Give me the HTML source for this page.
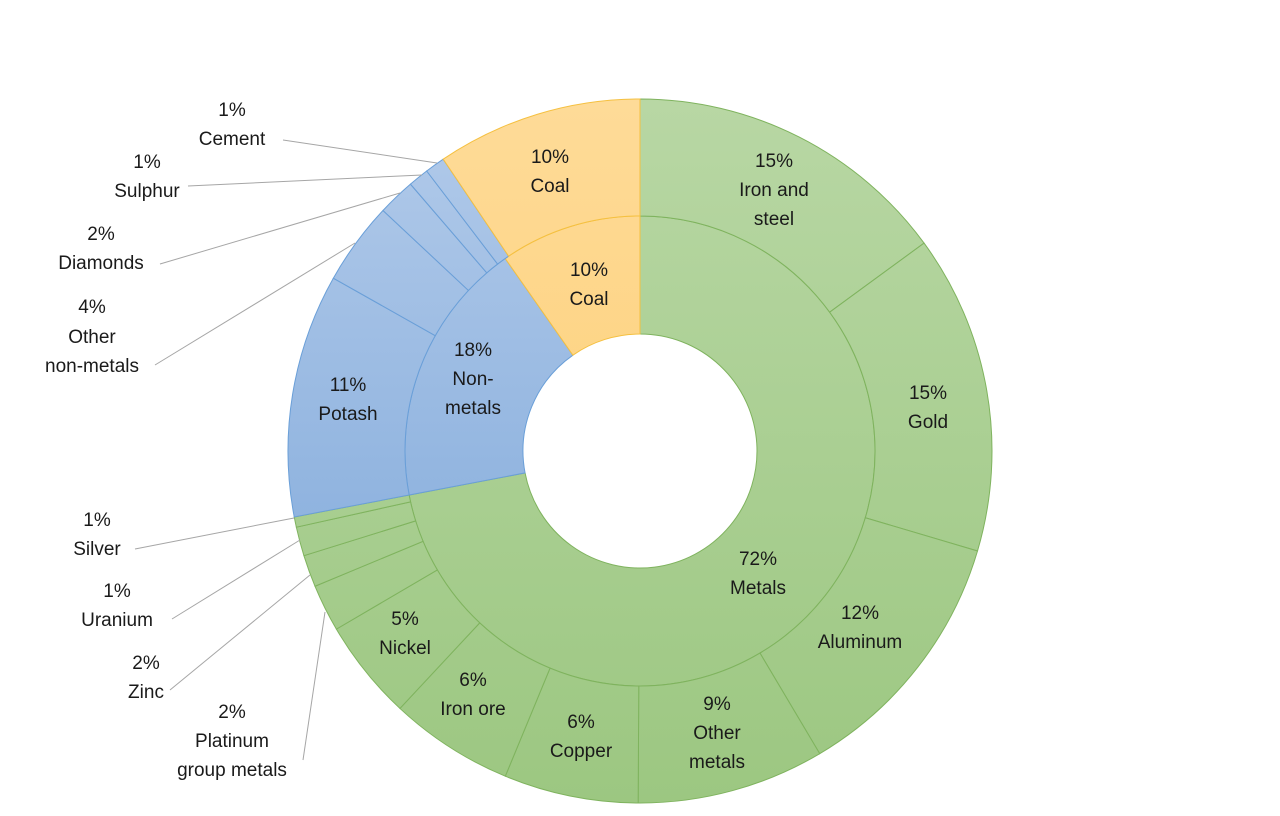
<!DOCTYPE html>
<html><head><meta charset="utf-8"><style>
html,body{margin:0;padding:0;background:#fff}
svg text{font-family:"Liberation Sans",sans-serif;font-size:19px;fill:#1a1a1a;text-anchor:middle}
</style></head><body>
<svg id="s" width="1280" height="811" xmlns="http://www.w3.org/2000/svg">
<defs>
<linearGradient id="g" gradientUnits="userSpaceOnUse" x1="0" y1="99" x2="0" y2="803"><stop offset="0" stop-color="#b8d7a4"/><stop offset="1" stop-color="#9cc781"/></linearGradient>
<linearGradient id="b" gradientUnits="userSpaceOnUse" x1="0" y1="99" x2="0" y2="803"><stop offset="0" stop-color="#b3cbea"/><stop offset="0.6" stop-color="#8fb3df"/><stop offset="1" stop-color="#7fa7da"/></linearGradient>
<linearGradient id="o" gradientUnits="userSpaceOnUse" x1="0" y1="99" x2="0" y2="803"><stop offset="0" stop-color="#fedb98"/><stop offset="1" stop-color="#fccb6a"/></linearGradient>
</defs>
<g id="arcs"></g>
<g stroke="#a6a6a6" stroke-width="1">
<line x1="283" y1="140" x2="437" y2="163"/>
<line x1="188" y1="186" x2="422" y2="175"/>
<line x1="160" y1="264" x2="400" y2="193"/>
<line x1="155" y1="365" x2="355" y2="243"/>
<line x1="135" y1="549" x2="294" y2="518"/>
<line x1="172" y1="619" x2="300" y2="540"/>
<line x1="170" y1="690" x2="310" y2="575"/>
<line x1="303" y1="760" x2="325" y2="612"/>
</g>
<text x="232" y="116">1%</text><text x="232" y="145">Cement</text>
<text x="147" y="168">1%</text><text x="147" y="197">Sulphur</text>
<text x="101" y="240">2%</text><text x="101" y="269">Diamonds</text>
<text x="92" y="313">4%</text><text x="92" y="343">Other</text><text x="92" y="372">non-metals</text>
<text x="97" y="526">1%</text><text x="97" y="555">Silver</text>
<text x="117" y="597">1%</text><text x="117" y="626">Uranium</text>
<text x="146" y="669">2%</text><text x="146" y="698">Zinc</text>
<text x="232" y="718">2%</text><text x="232" y="747">Platinum</text><text x="232" y="776">group metals</text>
<text x="550" y="163">10%</text><text x="550" y="192">Coal</text>
<text x="589" y="276">10%</text><text x="589" y="305">Coal</text>
<text x="774" y="167">15%</text><text x="774" y="196">Iron and</text><text x="774" y="225">steel</text>
<text x="928" y="399">15%</text><text x="928" y="428">Gold</text>
<text x="860" y="619">12%</text><text x="860" y="648">Aluminum</text>
<text x="758" y="565">72%</text><text x="758" y="594">Metals</text>
<text x="717" y="710">9%</text><text x="717" y="739">Other</text><text x="717" y="768">metals</text>
<text x="581" y="728">6%</text><text x="581" y="757">Copper</text>
<text x="473" y="686">6%</text><text x="473" y="715">Iron ore</text>
<text x="405" y="625">5%</text><text x="405" y="654">Nickel</text>
<text x="348" y="391">11%</text><text x="348" y="420">Potash</text>
<text x="473" y="356">18%</text><text x="473" y="385">Non-</text><text x="473" y="414">metals</text>
</svg>
<script>
var cx=640,cy=451;
function pt(r,a){a=a*Math.PI/180;return [cx+r*Math.sin(a),cy-r*Math.cos(a)];}
function seg(r0,r1,a0,a1,f,s){var p=[pt(r1,a0),pt(r1,a1),pt(r0,a1),pt(r0,a0)],l=(a1-a0)>180?1:0;
return '<path d="M'+p[0]+' A'+r1+','+r1+' 0 '+l+' 1 '+p[1]+' L'+p[2]+' A'+r0+','+r0+' 0 '+l+' 0 '+p[3]+'Z" fill="url(#'+f+')" stroke="'+s+'" stroke-width="1"/>';}
var G='#7fb35e',B='#6a9fd8',O='#f5c040',h='';
h+=seg(117,235,0,259.2,'g',G);h+=seg(117,235,259.2,325,'b',B);h+=seg(117,235,325,360,'o',O);
var outer=[[0,53.8,'g',G],[53.8,106.5,'g',G],[106.5,149.3,'g',G],[149.3,180.3,'g',G],[180.3,202.5,'g',G],[202.5,223,'g',G],[223,239.6,'g',G],[239.6,247.4,'g',G],[247.4,252.7,'g',G],[252.7,257.5,'g',G],[257.5,259.2,'g',G],
[259.2,299.4,'b',B],[299.4,313.1,'b',B],[313.1,319.3,'b',B],[319.3,322.7,'b',B],[322.7,326,'b',B],[326,360,'o',O]];
outer.forEach(function(o){h+=seg(235,352,o[0],o[1],o[2],o[3]);});
document.getElementById('arcs').innerHTML=h;
</script>
</body></html>
